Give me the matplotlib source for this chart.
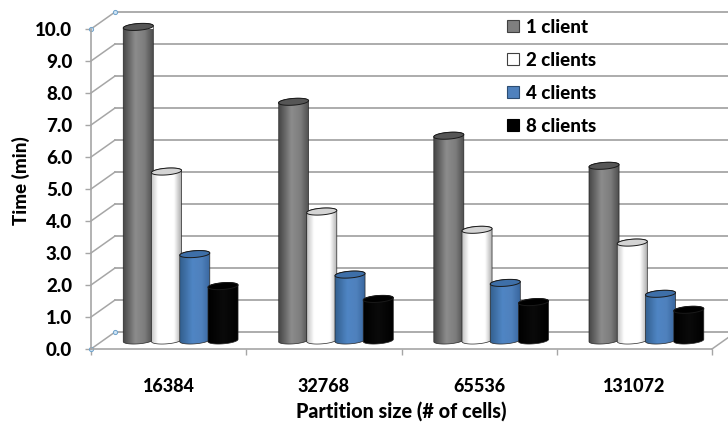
import numpy as np
import matplotlib
matplotlib.use("Agg")
import matplotlib.pyplot as plt
from matplotlib.colors import LinearSegmentedColormap
from matplotlib.patches import Polygon, PathPatch, Patch
from matplotlib.path import Path

plt.rcParams["font.family"] = ["Lato", "DejaVu Sans"]

# Data
partition_sizes = ["16384", "32768", "65536", "131072"]
series_labels = ["1 client", "2 clients", "4 clients", "8 clients"]
client_1 = [9.8, 7.46, 6.4, 5.46]
client_2 = [5.28, 4.03, 3.46, 3.06]
client_4 = [2.7, 2.06, 1.8, 1.46]
client_8 = [1.7, 1.3, 1.2, 0.96]
y_ticks = [0, 1, 2, 3, 4, 5, 6, 7, 8, 9, 10]

# Cylinder shading: gradient stops, top cap, legend swatch fill and edge
styles = [
    ([(0, "#474747"), (0.4, "#8c8c8c"), (0.7, "#7d7d7d"), (1, "#4a4a4a")], "#565656", "#7f7f7f", "#404040"),
    ([(0, "#c4c4c4"), (0.22, "#ffffff"), (0.75, "#ffffff"), (1, "#a8a8a8")], "#d4d4d4", "#ffffff", "#404040"),
    ([(0, "#33608f"), (0.4, "#4f85c4"), (0.7, "#4f81bd"), (1, "#37659c")], "#3e6fa8", "#4f81bd", "#2c4d73"),
    ([(0, "#000000"), (0.5, "#0a0a0a"), (1, "#000000")], "#000000", "#000000", "#000000"),
]
series = [client_1, client_2, client_4, client_8]

GRID = "#a6a6a6"
WEIGHT = 900
fig = plt.figure(figsize=(7.28, 4.23), dpi=100)
ax = fig.add_axes([91 / 728, (423 - 349) / 423, 621 / 728, 320 / 423])
ax.set_xlim(0, 4)
ax.set_ylim(0, 10)

# One group spans 155 px, one value unit 32 px
depth_x, depth_y = 24 / 155, 17 / 32
mid_x, mid_y = depth_x / 2, depth_y / 2

# Back wall and side wall grid
for v in y_ticks:
    ax.plot([depth_x, 4 + depth_x], [v + depth_y] * 2, color=GRID, lw=1.3,
            clip_on=False, zorder=1)
    ax.plot([0, depth_x], [v, v + depth_y], color=GRID, lw=1.1,
            clip_on=False, zorder=1)
ax.plot([4, 4 + depth_x], [0, depth_y], color=GRID, lw=1.1, clip_on=False, zorder=1)

# Handles on the corners of the plot area
for cx, cy in [(0, 10), (depth_x, 10 + depth_y), (0, 0), (depth_x, depth_y)]:
    ax.plot([cx], [cy], "o", ms=3, mfc="#cfe3f3", mec="#6fa3cc", mew=0.7,
            clip_on=False, zorder=2)

bar_w = 28.2 / 155
half_w = 15 / 155
cap_h = 0.105
tilt = 0.035
t = np.linspace(0, np.pi, 40)

for s, (values, style) in enumerate(zip(series, styles)):
    stops, cap_color, _, _ = style
    cmap = LinearSegmentedColormap.from_list("cyl", stops)
    for g, v in enumerate(values):
        cx = g + 0.5 + mid_x + (s - 1.5) * bar_w
        base = mid_y
        top = base + v
        z = 3 + s
        # Outline: straight sides, rounded bottom, and the rear of the top cap
        bottom_x = cx - half_w * np.cos(t)
        bottom_y = base - cap_h * np.sin(t) - tilt * np.cos(t)
        top_x = cx + half_w * np.cos(t)
        top_y = top + cap_h * np.sin(t) + tilt * np.cos(t)
        verts = np.column_stack([np.r_[bottom_x, top_x], np.r_[bottom_y, top_y]])
        body = PathPatch(Path(np.vstack([verts, verts[0]])), fc="none", ec="#262626",
                         lw=0.5, zorder=z + 0.2, clip_on=False)
        ax.add_patch(body)
        im = ax.imshow(np.linspace(0, 1, 64)[None, :], cmap=cmap, aspect="auto",
                       extent=(cx - half_w, cx + half_w, base - cap_h - tilt, top + cap_h + tilt),
                       zorder=z, interpolation="bilinear")
        im.set_clip_path(body)
        theta = np.linspace(0, 2 * np.pi, 72)
        cap = np.column_stack([cx + half_w * np.cos(theta),
                               top + cap_h * np.sin(theta) + tilt * np.cos(theta)])
        ax.add_patch(Polygon(cap, closed=True, fc=cap_color, ec="#1a1a1a", lw=0.7,
                             zorder=z + 0.3, clip_on=False))

ax.set_xlim(0, 4)
ax.set_ylim(0, 10)

# Axes
ax.patch.set_visible(False)
for side in ("top", "right"):
    ax.spines[side].set_visible(False)
for side in ("left", "bottom"):
    ax.spines[side].set_color(GRID)
    ax.spines[side].set_linewidth(1.2)
    ax.spines[side].set_zorder(2)

ax.set_yticks(y_ticks)
ax.set_yticklabels([f"{v:.1f}" for v in y_ticks], fontsize=13.5, fontweight=WEIGHT, color="black")
ax.tick_params(axis="y", length=4.5, width=1, color=GRID, pad=9)
ax.set_xticks(range(5))
ax.set_xticklabels([])
ax.tick_params(axis="x", which="major", length=4.5, width=1, color=GRID)
ax.set_xticks([0.5, 1.5, 2.5, 3.5], minor=True)
ax.set_xticklabels(partition_sizes, minor=True, fontsize=13, fontweight=WEIGHT)
ax.tick_params(axis="x", which="minor", length=0, pad=21)

fig.text(21 / 728, 1 - 181 / 423, "Time (min)", rotation=90, ha="center", va="center",
         fontsize=13.5, fontweight=WEIGHT)
fig.text(401 / 728, 1 - 411 / 423, "Partition size (# of cells)", ha="center", va="center",
         fontsize=14.2, fontweight=WEIGHT)

handles = [Patch(fc=st[2], ec=st[3], lw=0.8) for st in styles]
fig.legend(handles, series_labels, loc="upper left", bbox_to_anchor=(507 / 728, 1 - 19 / 423),
           frameon=False, handlelength=0.62, handleheight=0.62,
           handletextpad=0.4, labelspacing=0.85, borderpad=0.0, borderaxespad=0.0,
           prop={"family": "Lato", "weight": WEIGHT, "size": 13.5})

fig.savefig("out.png", dpi=100)
